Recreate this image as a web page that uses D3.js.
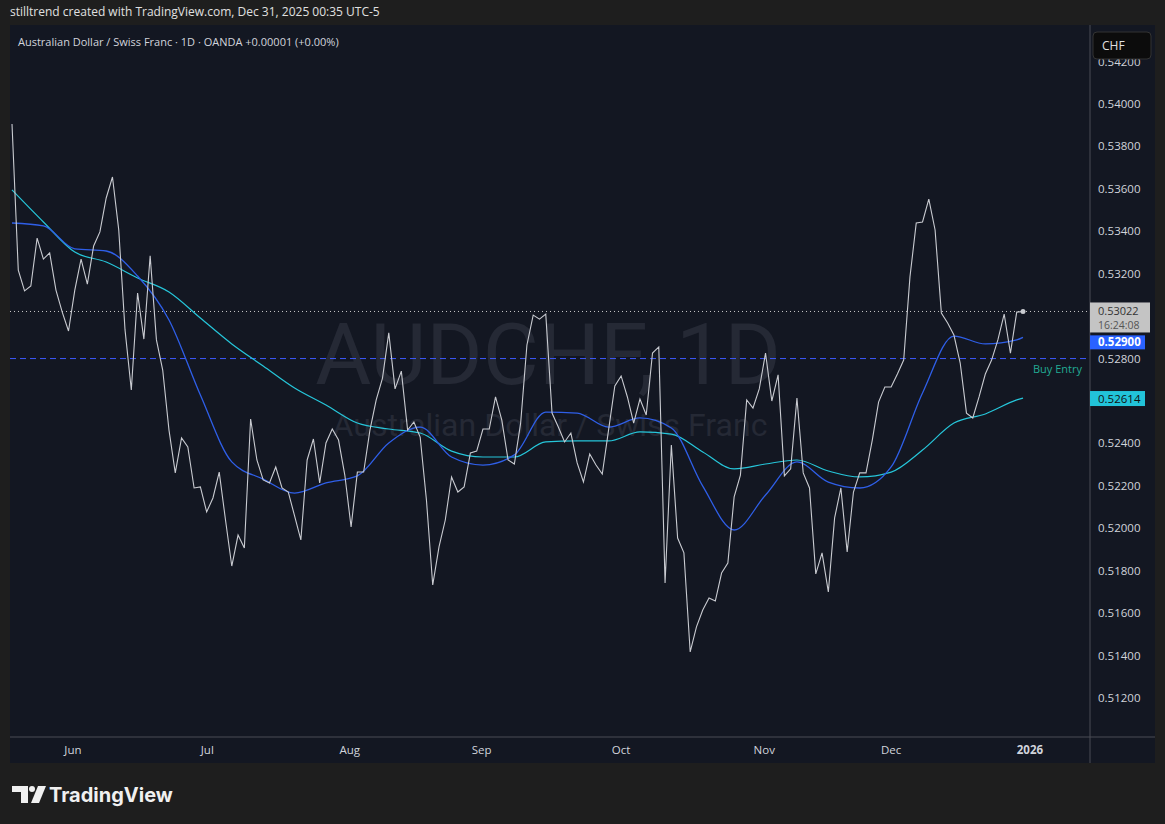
<!DOCTYPE html>
<html><head><meta charset="utf-8">
<script src="https://cdn.jsdelivr.net/npm/d3@7"></script>
<style>body{margin:0;background:#1e1e1e;font-family:"Open Sans",Roboto,sans-serif}</style>
</head><body><svg id="c" width="1165" height="824"></svg>
<script>
const closes=[.53906,.53217,.53119,.53142,.53368,.53269,.53298,.53123,.53019,.52930,.53123,.53269,.53151,.53331,.53397,.53557,.53656,.53406,.52935,.52652,.53109,.52892,.53284,.52888,.52746,.52463,.52261,.52426,.52383,.52190,.52195,.52077,.52143,.52265,.52039,.51822,.51968,.51907,.52515,.52322,.52228,.52214,.52289,.52190,.52171,.52058,.51945,.52322,.52421,.52214,.52402,.52468,.52416,.52251,.52006,.52265,.52265,.52463,.52605,.52708,.52921,.52657,.52741,.52463,.52501,.52430,.52133,.51733,.51912,.52039,.52242,.52171,.52195,.52355,.52364,.52468,.52468,.52619,.52510,.52322,.52303,.52496,.52864,.53005,.52986,.53010,.52543,.52477,.52407,.52449,.52308,.52218,.52350,.52298,.52256,.52463,.52671,.52718,.52619,.52496,.52609,.52534,.52826,.52855,.51742,.52393,.51954,.51884,.51417,.51535,.51615,.51671,.51657,.51789,.51836,.52148,.52251,.52605,.52567,.52657,.52826,.52600,.52723,.52247,.52280,.52614,.52261,.52190,.51785,.51884,.51700,.52049,.52190,.51888,.52171,.52261,.52261,.52416,.52595,.52666,.52666,.52727,.52793,.53185,.53439,.53444,.53552,.53406,.53015,.52968,.52911,.52779,.52543,.52520,.52619,.52727,.52793,.52888,.53010,.52826,.53019,.53022];
const maDays=[0,5,10,15,20,25,30,35,40,45,50,55,60,65,70,75,80,85,90,95,100,105,110,115,120,125,130,135,140,145,150,155,160,161];
const maFast=[.53439,.53425,.53317,.53307,.53189,.52982,.52628,.52313,.52232,.52166,.52214,.52247,.52402,.52477,.52336,.52298,.52346,.52548,.52543,.52477,.52520,.52473,.52199,.51992,.52157,.52313,.52218,.52190,.52289,.52638,.52906,.52869,.52888,.52900];
const maSlow=[.53595,.53444,.53302,.53255,.53180,.53114,.52991,.52869,.52765,.52661,.52581,.52496,.52468,.52449,.52364,.52336,.52336,.52407,.52412,.52412,.52454,.52444,.52360,.52280,.52303,.52322,.52270,.52242,.52265,.52369,.52496,.52539,.52605,.52614];
const monthLabels=["Jun","Jul","Aug","Sep","Oct","Nov","Dec","2026"];
const monthPos=[9.7,31.1,53.8,74.8,97.0,119.8,140.0,162.1];
const priceTicks=[0.542,0.540,0.538,0.536,0.534,0.532,0.530,0.528,0.526,0.524,0.522,0.520,0.518,0.516,0.514,0.512];
const buyEntry=0.528;

const svg=d3.select("#c");
svg.append("rect").attr("width",1165).attr("height",824).attr("fill","#1e1e1e");
svg.append("text").attr("x",10).attr("y",16).attr("fill","#e0e0e0").attr("font-size",12)
  .text("stilltrend created with TradingView.com, Dec 31, 2025 00:35 UTC-5");
const L=10,R=1155,T=25,B=763,PX=1090,AX=737;
svg.append("rect").attr("x",L).attr("y",T).attr("width",R-L).attr("height",B-T).attr("fill","#131722");
svg.append("line").attr("x1",PX).attr("x2",PX).attr("y1",T).attr("y2",B).attr("stroke","#4a4d55");
svg.append("line").attr("x1",L).attr("x2",R).attr("y1",AX).attr("y2",AX).attr("stroke","#4a4d55");

const x=d3.scaleLinear().domain([0,161]).range([12,1023]);
const y=d3.scaleLinear().domain([0.512,0.540]).range([698,104]);

svg.append("text").attr("x",548).attr("y",384).attr("text-anchor","middle").attr("font-size",86)
  .attr("fill","#252935").attr("font-family","Roboto,sans-serif").text("AUDCHF, 1D");
svg.append("text").attr("x",550).attr("y",436).attr("text-anchor","middle").attr("font-size",32)
  .attr("fill","#252935").attr("font-family","Roboto,sans-serif").text("Australian Dollar / Swiss Franc");

const g=svg.append("g");
g.append("line").attr("x1",L).attr("x2",PX).attr("y1",y(buyEntry)).attr("y2",y(buyEntry))
  .attr("stroke","#3d5afe").attr("stroke-dasharray","6,4");
g.append("text").attr("x",1082).attr("y",y(buyEntry)+14).attr("text-anchor","end").attr("font-size",11)
  .attr("fill","#22ab94").text("Buy Entry");
const last=closes[closes.length-1];
g.append("line").attr("x1",L).attr("x2",PX).attr("y1",y(last)).attr("y2",y(last))
  .attr("stroke","#c8c8c8").attr("stroke-dasharray","1,3");

const ln=d3.line().x(d=>x(d[0])).y(d=>y(d[1])).curve(d3.curveMonotoneX);
g.append("path").datum(maDays.map((d,i)=>[d,maSlow[i]])).attr("d",ln)
  .attr("fill","none").attr("stroke","#26c6da").attr("stroke-width",1.2);
g.append("path").datum(maDays.map((d,i)=>[d,maFast[i]])).attr("d",ln)
  .attr("fill","none").attr("stroke","#2f5fe8").attr("stroke-width",1.3);
g.append("path").datum(closes.map((c,i)=>[i,c])).attr("d",d3.line().x(d=>x(d[0])).y(d=>y(d[1])))
  .attr("fill","none").attr("stroke","#c9cbd1").attr("stroke-width",1.1);
g.append("circle").attr("cx",x(161)).attr("cy",y(last)).attr("r",2.5).attr("fill","#c9cbd1");

priceTicks.forEach(p=>{
  if(Math.abs(y(p)-y(last)-6)<20) return; // hidden behind last-price label
  svg.append("text").attr("x",1098).attr("y",y(p)+4).attr("font-size",11.5).attr("fill","#d1d4dc").text(p.toFixed(5));
});
svg.append("rect").attr("x",1093).attr("y",32).attr("width",58).attr("height",27).attr("rx",4)
  .attr("fill","#0c0c0c").attr("stroke","#333");
svg.append("text").attr("x",1102).attr("y",50).attr("font-size",12).attr("fill","#e0e0e0").text("CHF");
svg.append("rect").attr("x",1090).attr("y",y(last)-9).attr("width",60).attr("height",30).attr("fill","#c4c4c4");
svg.append("text").attr("x",1098).attr("y",y(last)+4).attr("font-size",11).attr("fill","#333").text(last.toFixed(5));
svg.append("text").attr("x",1098).attr("y",y(last)+18).attr("font-size",10.5).attr("fill","#555").text("16:24:08");
const lf=maFast[maFast.length-1], ls=maSlow[maSlow.length-1];
svg.append("rect").attr("x",1090).attr("y",y(lf)-2).attr("width",55).attr("height",14).attr("fill","#2962ff");
svg.append("text").attr("x",1098).attr("y",y(lf)+9).attr("font-size",11.5).attr("font-weight","bold").attr("fill","#fff").text(lf.toFixed(5));
svg.append("rect").attr("x",1090).attr("y",y(ls)-7).attr("width",55).attr("height",15).attr("fill","#22c3d9");
svg.append("text").attr("x",1098).attr("y",y(ls)+5).attr("font-size",11.5).attr("fill","#111").text(ls.toFixed(5));

monthLabels.forEach((m,i)=>{
  svg.append("text").attr("x",x(monthPos[i])).attr("y",754).attr("text-anchor","middle").attr("font-size",11.5)
    .attr("font-weight",m==="2026"?"bold":"normal").attr("fill","#d1d4dc").text(m);
});
svg.append("text").attr("x",18).attr("y",46).attr("font-size",11).attr("fill","#d1d4dc")
  .text("Australian Dollar / Swiss Franc · 1D · OANDA  +0.00001 (+0.00%)");
const lg=svg.append("g").attr("fill","#f0f0f0");
lg.append("path").attr("d","M12 786 h16 v17 h-7 v-11 h-9 z");
lg.append("circle").attr("cx",32).attr("cy",789).attr("r",3);
lg.append("path").attr("d","M38 786 h8 l-7 17 h-8 z");
svg.append("text").attr("x",49).attr("y",802).attr("font-size",20).attr("font-weight","bold").attr("fill","#f0f0f0")
  .attr("font-family","Inter,Roboto,sans-serif").text("TradingView");
</script></body></html>
